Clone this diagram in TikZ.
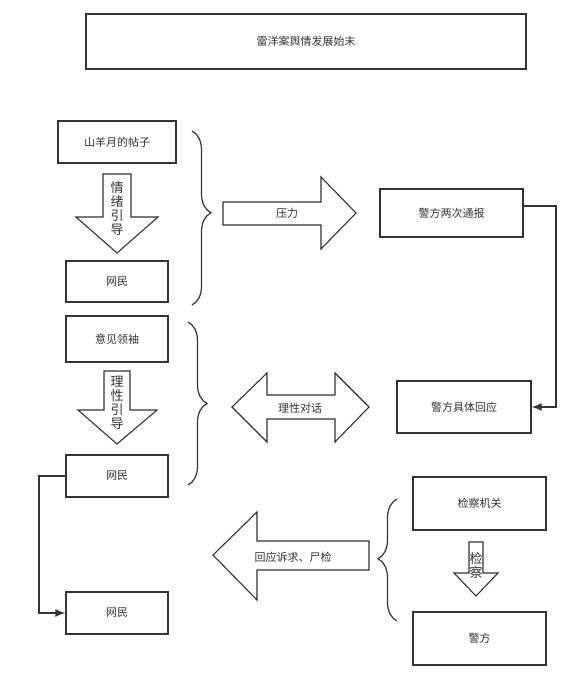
\documentclass[tikz,border=0pt]{standalone}
\usepackage{fontspec}
\setmainfont{Noto Sans CJK SC}
\usetikzlibrary{arrows.meta,decorations.pathreplacing}
\definecolor{ink}{HTML}{333333}
\tikzset{
  box/.style={draw=ink,line width=1.4pt,inner sep=0pt,font=\fontsize{11}{12}\selectfont,text=ink},
  blockarrow/.style={draw=ink,line width=1.1pt,fill=white,line join=miter},
  lbl/.style={inner sep=0pt,font=\fontsize{11}{12}\selectfont,text=ink},
  vlbl/.style={inner sep=0pt,font=\fontsize{13}{14}\selectfont,text=ink,align=center},
  conn/.style={draw=ink,line width=1.4pt,-{Latex[length=10pt,width=8pt]}},
  bracestyle/.style={draw=ink,line width=1.2pt,decorate}
}
\begin{document}
\begin{tikzpicture}[x=1pt,y=-1pt]
\useasboundingbox[fill=white] (0,0) rectangle (582,678);

% title
\node[box,line width=1.8pt,minimum width=440pt,minimum height=55pt] (title) at (306,41.5) {雷洋案舆情发展始末};

% left column
\node[box,minimum width=118pt,minimum height=42pt] (post) at (117,142) {山羊月的帖子};
\node[box,minimum width=102pt,minimum height=41pt] (net1) at (117,281.5) {网民};
\node[box,minimum width=102pt,minimum height=46pt] (leader) at (117,339) {意见领袖};
\node[box,minimum width=102pt,minimum height=42pt] (net2) at (117,476) {网民};
\node[box,minimum width=102pt,minimum height=42pt] (net3) at (117,613) {网民};

% right column
\node[box,minimum width=143pt,minimum height=48pt] (notice) at (451.5,213) {警方两次通报};
\node[box,minimum width=134pt,minimum height=52pt] (reply) at (464,407) {警方具体回应};
\node[box,minimum width=133pt,minimum height=53pt] (procur) at (479.5,503.5) {检察机关};
\node[box,minimum width=133pt,minimum height=53pt] (police) at (479.5,638.5) {警方};

% block arrows
\draw[blockarrow] (103,174) -- (131,174) -- (131,217) -- (158,217) -- (117,253) -- (76,217) -- (103,217) -- cycle;
\node[vlbl] (a1) at (117,209) {情\\绪\\引\\导};

\draw[blockarrow] (104,371) -- (130,371) -- (130,410) -- (157,410) -- (117,444) -- (78,410) -- (104,410) -- cycle;
\node[vlbl] (a2) at (117,403) {理\\性\\引\\导};

\draw[blockarrow] (223,202) -- (321,202) -- (321,177) -- (356,213) -- (321,249) -- (321,225) -- (223,225) -- cycle;
\node[lbl] (a3) at (287,213) {压力};

\draw[blockarrow] (232,407) -- (267,373) -- (267,395) -- (335,395) -- (335,373) -- (369,407) -- (335,442) -- (335,419) -- (267,419) -- (267,442) -- cycle;
\node[lbl] (a4) at (300,408) {理性对话};

\draw[blockarrow] (213,555) -- (257,512) -- (257,541) -- (369,541) -- (369,570) -- (257,570) -- (257,600) -- cycle;
\node[lbl] (a5) at (293,557) {回应诉求、尸检};

\draw[blockarrow] (469,542) -- (483,542) -- (483,573) -- (498,573) -- (476,596) -- (454,573) -- (469,573) -- cycle;
\node[vlbl] (a6) at (476,565) {检\\察};

% braces
\draw[bracestyle,decoration={brace,amplitude=19pt,aspect=0.47}] (192,131) -- (192,305);
\draw[bracestyle,decoration={brace,amplitude=19pt,aspect=0.5}] (188,322) -- (188,485);
\draw[bracestyle,decoration={brace,amplitude=19pt,aspect=0.51}] (397,621) -- (397,499);

% connectors
\coordinate (turnR) at (556,206);
\draw[conn] (notice.east |- turnR) -- (turnR) |- (reply.east);
\coordinate (turnL) at (39,476);
\draw[conn] (net2.west) -- (turnL) |- (net3.west);
\end{tikzpicture}
\end{document}
